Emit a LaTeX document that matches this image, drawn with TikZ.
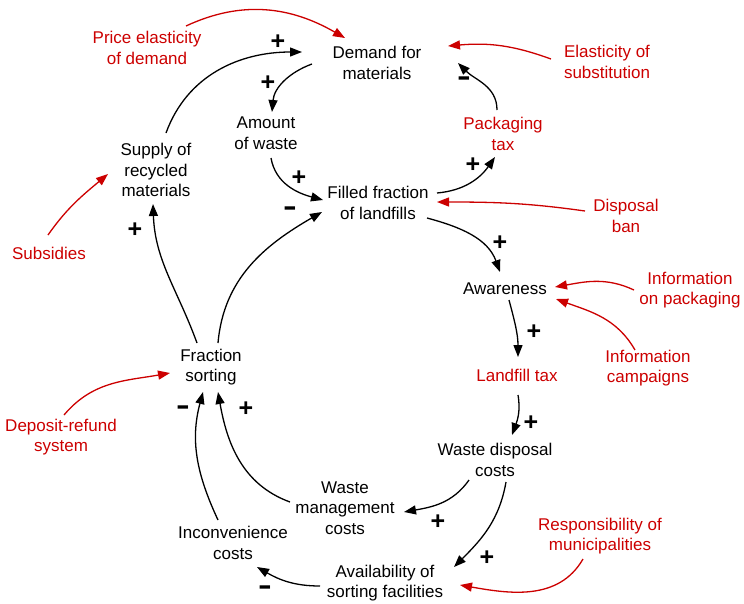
\documentclass[tikz,border=0pt]{standalone}
\usepackage{fontspec}
\setmainfont{Liberation Sans}
\usetikzlibrary{arrows.meta}
\definecolor{policyred}{RGB}{204,0,0}
\tikzset{
  var/.style={align=center, inner sep=0pt, font=\fontsize{17}{20.5}\selectfont},
  policy/.style={var, text=policyred},
  link/.style={line width=1.3pt, -{Triangle[length=12pt,width=9pt]}},
  plink/.style={link, color=policyred},
  sign/.style={inner sep=0pt, font=\fontsize{25}{25}\selectfont\bfseries},
}
\def\minussign{{\fontsize{21}{21}\selectfont\scalebox{1}[1.6]{--}}}

\begin{document}
\begin{tikzpicture}[x=1pt,y=1pt]
\useasboundingbox (0,0) rectangle (744,-603);
% main loop variables
\node[var] (demand) at (377,-63) {Demand for\\materials};
\node[var] (amount) at (266,-133) {Amount\\of waste};
\node[var] (supply) at (156,-170) {Supply of\\recycled\\materials};
\node[var] (filled) at (378,-203) {Filled fraction\\of landfills};
\node[var] (aware) at (505,-289) {Awareness};
\node[var] (frac) at (211,-367) {Fraction\\sorting};
\node[var] (wdc) at (495,-460) {Waste disposal\\costs};
\node[var] (wmc) at (345,-508) {Waste\\management\\costs};
\node[var] (incon) at (233,-543) {Inconvenience\\costs};
\node[var] (avail) at (385,-583) {Availability of\\sorting facilities};
% policy levers
\node[policy] (price) at (147,-48) {Price elasticity\\of demand};
\node[policy] (elast) at (607,-62) {Elasticity of\\substitution};
\node[policy] (pack) at (503,-134) {Packaging\\tax};
\node[policy] (ban) at (626,-216) {Disposal\\ban};
\node[policy] (subs) at (49,-253) {Subsidies};
\node[policy] (infop) at (690,-290) {Information\\on packaging};
\node[policy] (infoc) at (648,-368) {Information\\campaigns};
\node[policy] (ltax) at (517,-375) {Landfill tax};
\node[policy] (deposit) at (61,-437) {Deposit-refund\\system};
\node[policy] (resp) at (600,-536) {Responsibility of\\municipalities};

% causal links
\draw[link] ([shift={(10,37)}]supply.center) to[out=70,in=180] ([shift={(-75,11)}]demand.center);
\draw[link] ([shift={(-65,-1)}]demand.center) to[out=200,in=85] ([shift={(6,21)}]amount.center);
\draw[link] ([shift={(5,-25)}]amount.center) to[out=-80,in=165] ([shift={(-55,3)}]filled.center);
\draw[link] ([shift={(7,24)}]frac.center) to[out=85,in=210] ([shift={(-56,-9)}]filled.center);
\draw[link] ([shift={(-14,24)}]frac.center) to[out=110,in=-88] ([shift={(-3,-34)}]supply.center);
\draw[link] ([shift={(59,10)}]filled.center) to[out=5,in=235] ([shift={(-8,-23)}]pack.center);
\draw[link] ([shift={(-6,24)}]pack.center) to[out=90,in=-45] ([shift={(81,0)}]demand.center);
\draw[link] ([shift={(49,-15)}]filled.center) to[out=-15,in=110] ([shift={(-5,17)}]aware.center);
\draw[link] ([shift={(4,-11)}]aware.center) to[out=-75,in=90] ([shift={(1,18)}]ltax.center);
\draw[link] ([shift={(1,-20)}]ltax.center) to[out=-80,in=70] ([shift={(17,25)}]wdc.center);
\draw[link] ([shift={(-26,-20)}]wdc.center) to[out=-125,in=10] ([shift={(59,-4)}]wmc.center);
\draw[link] ([shift={(11,-22)}]wdc.center) to[out=-100,in=45] ([shift={(69,16)}]avail.center);
\draw[link] ([shift={(-65,-3)}]avail.center) to[out=180,in=-30] ([shift={(24,-24)}]incon.center);
\draw[link] ([shift={(-15,23)}]incon.center) to[out=115,in=-105] ([shift={(-8,-25)}]frac.center);
\draw[link] ([shift={(-55,6)}]wmc.center) to[out=160,in=-80] ([shift={(7,-25)}]frac.center);

% policy links
\draw[plink] ([shift={(39,22)}]price.center) to[out=25,in=150] ([shift={(-32,25)}]demand.center);
\draw[plink] ([shift={(-56,3)}]elast.center) to[out=160,in=5] ([shift={(71,17)}]demand.center);
\draw[plink] ([shift={(-41,5)}]ban.center) to[out=172,in=0] ([shift={(59,1)}]filled.center);
\draw[plink] ([shift={(-1,18)}]subs.center) to[out=55,in=220] ([shift={(-48,-4)}]supply.center);
\draw[plink] ([shift={(-56,0)}]infop.center) to[out=155,in=10] ([shift={(50,2)}]aware.center);
\draw[plink] ([shift={(-13,18)}]infoc.center) to[out=120,in=-20] ([shift={(51,-10)}]aware.center);
\draw[plink] ([shift={(3,22)}]deposit.center) to[out=50,in=190] ([shift={(-41,-6)}]frac.center);
\draw[plink] ([shift={(-17,-23)}]resp.center) to[out=-120,in=-10] ([shift={(75,-2)}]avail.center);

% polarities
\node[sign] (s1) at (278,-42) {+};
\node[sign] (s2) at (268,-83) {+};
\node[sign] (s3) at (299,-178) {+};
\node[sign] (s4) at (290,-212) {\minussign};
\node[sign] (s5) at (135,-230) {+};
\node[sign] (s6) at (473,-165) {+};
\node[sign] (s7) at (464,-82) {\minussign};
\node[sign] (s8) at (500,-243) {+};
\node[sign] (s9) at (534,-332) {+};
\node[sign] (s10) at (531,-423) {+};
\node[sign] (s11) at (438,-522) {+};
\node[sign] (s12) at (487,-558) {+};
\node[sign] (s13) at (265,-591) {\minussign};
\node[sign] (s14) at (183,-411) {\minussign};
\node[sign] (s15) at (246,-409) {+};
\end{tikzpicture}
\end{document}
